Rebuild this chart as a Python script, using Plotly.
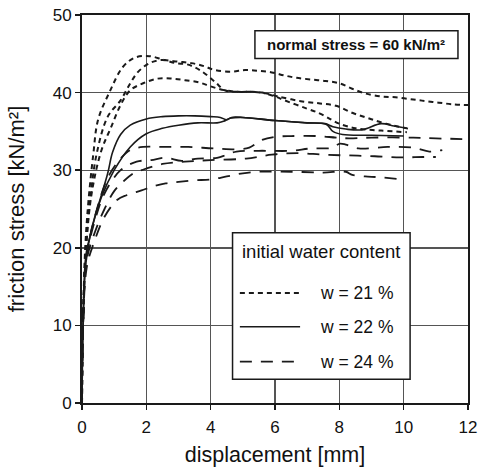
import plotly.graph_objects as go

# ---------------- data ----------------
# w = 21 % (short dashes)
w21_a_x = [0, 0.03, 0.1, 0.2, 0.35, 0.5, 0.86, 1.27, 1.64, 2.1, 2.57, 2.98, 3.4, 3.8, 4.13, 4.64, 5.07, 5.5, 5.9, 6.3, 6.67, 7.1, 7.57, 8.0, 8.4, 8.8, 9.3, 9.75, 10.3, 10.7, 11.1, 11.5, 12.0]
w21_a_y = [0, 10, 20, 26, 32, 36.5, 40.1, 43.3, 44.5, 44.7, 44.2, 44.0, 43.8, 43.4, 42.9, 42.7, 42.9, 42.8, 42.6, 42.2, 41.9, 41.7, 41.5, 41.2, 40.5, 39.9, 39.5, 39.4, 39.1, 38.9, 38.7, 38.5, 38.4]
w21_b_x = [0, 0.03, 0.12, 0.25, 0.45, 0.8, 1.2, 1.5, 1.75, 2.1, 2.5, 2.9, 3.3, 3.7, 4.13, 4.44, 4.86, 5.3, 5.6, 6.0, 6.3, 6.95, 7.4, 7.76, 8.0, 8.5, 9.3, 10.1]
w21_b_y = [0, 10, 20, 26, 32, 36.9, 39.0, 41.2, 42.7, 43.8, 44.2, 43.8, 43.6, 42.8, 41.4, 40.3, 40.1, 40.1, 40.0, 39.5, 39.0, 38.0, 37.3, 36.5, 36.0, 35.4, 35.1, 34.9]
w21_c_x = [0, 0.03, 0.13, 0.3, 0.6, 0.9, 1.2, 1.5, 1.9, 2.35, 2.8, 3.2, 3.65, 4.0, 4.44, 4.86, 5.27, 5.7, 6.1, 6.8, 7.4, 7.9, 8.4, 8.9, 9.45, 10.2]
w21_c_y = [0, 10, 20, 27, 32.5, 35.5, 38.4, 40.3, 41.2, 41.8, 41.8, 41.6, 41.3, 40.8, 40.3, 40.1, 40.1, 39.9, 39.5, 38.9, 38.6, 38.3, 37.4, 36.7, 36.0, 35.3]

# w = 22 % (solid)
w22_a_x = [0, 0.03, 0.12, 0.25, 0.44, 0.8, 0.95, 1.2, 1.5, 2.0, 2.5, 3.0, 3.5, 4.0, 4.3, 4.5, 4.65, 5.0, 6.0, 7.0, 7.55, 7.8, 8.2, 8.7, 9.3, 9.7, 10.1]
w22_a_y = [0, 10, 19, 21.5, 24.5, 29.6, 32.3, 34.6, 35.8, 36.6, 36.9, 37.0, 37.0, 36.9, 36.8, 36.5, 36.8, 36.8, 36.4, 36.1, 36.0, 35.6, 35.3, 35.2, 36.0, 35.7, 35.4]
w22_b_x = [0, 0.03, 0.12, 0.3, 0.6, 1.0, 1.5, 2.0, 2.5, 3.0, 3.6, 4.2, 4.4, 4.6, 5.0, 6.0, 7.0, 7.6, 7.8, 8.1, 9.0, 10.0]
w22_b_y = [0, 9, 18, 22.5, 26.5, 30.0, 33.0, 34.7, 35.4, 35.8, 36.1, 36.1, 36.3, 36.7, 36.8, 36.4, 36.1, 35.9, 35.0, 34.6, 34.5, 34.4]

# w = 24 % (long dashes)
w24_a_x = [0, 0.03, 0.15, 0.4, 0.8, 1.2, 1.5, 1.9, 2.5, 3.3, 4.1, 4.9, 5.2, 5.6, 6.0, 6.5, 7.3, 7.9, 8.3, 9.0, 10.3, 11.0, 12.0]
w24_a_y = [0, 10, 19, 24, 29, 31.5, 32.6, 33.0, 33.0, 33.0, 32.8, 32.7, 32.9, 33.9, 34.3, 34.4, 34.4, 34.2, 34.1, 34.2, 34.2, 34.1, 34.0]
w24_b_x = [0, 0.03, 0.15, 0.4, 0.7, 1.2, 1.7, 2.15, 2.6, 3.1, 3.6, 4.2, 4.5, 4.8, 5.5, 6.5, 7.1, 7.8, 8.0, 8.2, 8.6, 9.5, 10.3, 10.8, 11.2]
w24_b_y = [0, 10, 19, 23.5, 27, 30, 31.1, 31.3, 31.6, 31.2, 31.5, 31.6, 32.0, 32.4, 32.5, 32.5, 32.8, 32.9, 33.4, 33.3, 32.8, 33.0, 32.9, 32.4, 32.6]
w24_c_x = [0, 0.03, 0.15, 0.4, 0.7, 1.0, 1.3, 1.6, 1.85, 2.5, 3.2, 4.0, 5.1, 5.9, 6.7, 7.5, 8.3, 9.1, 9.9, 10.6, 11.0]
w24_c_y = [0, 10, 18.5, 22, 25, 27.3, 28.6, 29.6, 30.0, 30.8, 31.1, 31.3, 31.5, 32.0, 32.2, 32.0, 31.9, 31.8, 31.65, 31.7, 31.7]
w24_d_x = [0, 0.03, 0.15, 0.4, 0.7, 1.1, 1.4, 1.85, 2.2, 2.6, 3.0, 3.5, 4.0, 4.5, 5.0, 5.5, 6.5, 7.5, 8.2, 8.4, 8.8, 9.2, 10.0]
w24_d_y = [0, 9, 17.5, 21, 24, 26.2, 26.8, 27.4, 27.9, 28.3, 28.5, 28.7, 28.8, 29.2, 29.6, 29.8, 29.8, 29.7, 29.8, 29.4, 29.2, 29.1, 28.8]

x_ticks = [0, 2, 4, 6, 8, 10, 12]
y_ticks = [0, 10, 20, 30, 40, 50]
legend_title = "initial water content"
legend_labels = ["w = 21 %", "w = 22 %", "w = 24 %"]
box_label = "<b>normal stress = 60 kN/m²</b>"

# ---------------- styles ----------------
INK = "#1a1a1a"
FONT = "Liberation Sans, Arial, sans-serif"
styles = {
    "w21": dict(color=INK, width=2.0, dash="5px,4px"),
    "w22": dict(color=INK, width=1.6, dash="solid"),
    "w24": dict(color=INK, width=1.8, dash="12px,9px"),
}

series = [
    ("w21", w21_a_x, w21_a_y), ("w21", w21_b_x, w21_b_y), ("w21", w21_c_x, w21_c_y),
    ("w22", w22_a_x, w22_a_y), ("w22", w22_b_x, w22_b_y),
    ("w24", w24_a_x, w24_a_y), ("w24", w24_b_x, w24_b_y),
    ("w24", w24_c_x, w24_c_y), ("w24", w24_d_x, w24_d_y),
]

fig = go.Figure()
for key, xs, ys in series:
    fig.add_trace(go.Scatter(x=xs, y=ys, mode="lines", line=styles[key],
                             line_shape="spline", showlegend=False, hoverinfo="skip"))

fig.update_layout(
    width=480, height=467,
    margin=dict(l=82, r=12, t=15, b=64),
    paper_bgcolor="white", plot_bgcolor="white",
    font=dict(family=FONT, color="#111", size=17),
    showlegend=False,
)
fig.update_xaxes(range=[0, 12], tickvals=x_ticks, showgrid=True, gridcolor="#555", gridwidth=1.4,
                 showline=True, linecolor=INK, linewidth=2, mirror=True,
                 ticks="outside", ticklen=5, tickcolor=INK, tickwidth=1.5,
                 zeroline=False, tickfont=dict(size=17), ticklabeloverflow="allow",
                 ticklabelstandoff=3, automargin=False,
                 title=dict(text="displacement [mm]", font=dict(size=21.5), standoff=12))
fig.update_yaxes(range=[0, 50], tickvals=y_ticks, showgrid=True, gridcolor="#555", gridwidth=1.4,
                 showline=True, linecolor=INK, linewidth=2, mirror=True,
                 ticks="outside", ticklen=5, tickcolor=INK, tickwidth=1.5,
                 zeroline=False, tickfont=dict(size=17), ticklabeloverflow="allow",
                 automargin=False,
                 title=dict(text="friction stress [kN/m²]", font=dict(size=22), standoff=22))

# normal stress box
fig.add_shape(type="rect", xref="paper", yref="paper", x0=0.448, x1=0.974, y0=0.888, y1=0.9595,
              line=dict(color=INK, width=1.5), fillcolor="white", layer="above")
fig.add_annotation(xref="paper", yref="paper", x=0.711, y=0.924, text=box_label, showarrow=False,
                   font=dict(size=15, family=FONT, color="#111"), xanchor="center", yanchor="middle")

# legend box (drawn manually)
fig.add_shape(type="rect", xref="paper", yref="paper", x0=0.390, x1=0.850, y0=0.061, y1=0.439,
              line=dict(color=INK, width=1.5), fillcolor="white", layer="above")
fig.add_annotation(xref="paper", yref="paper", x=0.619, y=0.390, text=legend_title, showarrow=False,
                   font=dict(size=18.5, family=FONT, color="#111"), xanchor="center", yanchor="middle")
row_y = [0.2835, 0.1966, 0.1064]
for key, label, yy in zip(["w21", "w22", "w24"], legend_labels, row_y):
    fig.add_shape(type="line", xref="paper", yref="paper", x0=0.409, x1=0.565, y0=yy, y1=yy,
                  line=styles[key], layer="above")
    fig.add_annotation(xref="paper", yref="paper", x=0.612, y=yy, text=label, showarrow=False,
                       font=dict(size=17.5, family=FONT, color="#111"), xanchor="left", yanchor="middle")

fig.write_html(
    "out.html",
    config={"displayModeBar": False, "staticPlot": True},
    post_script=("document.body.style.margin='0';"
                 "document.body.style.overflow='hidden';"
                 "document.documentElement.style.overflow='hidden';"),
)
